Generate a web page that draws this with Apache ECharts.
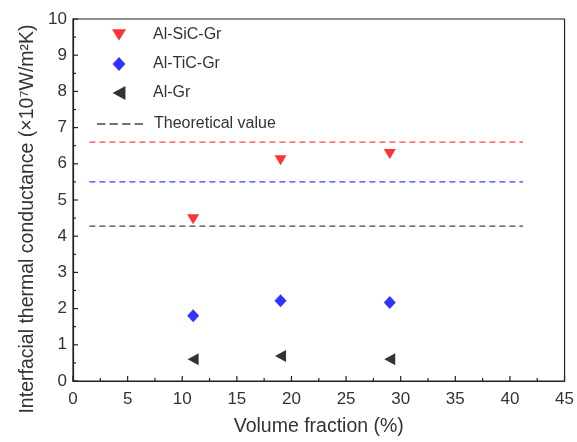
<!DOCTYPE html>
<html><head><meta charset="utf-8">
<script src="https://cdn.jsdelivr.net/npm/echarts@6/dist/echarts.min.js"></script>
<style>html,body{margin:0;padding:0;background:#fff}#c{width:577px;height:442px}</style>
</head><body><div id="c"></div>
<script>
const volumeFraction = [11, 19, 29];
const alSiCGr = [4.47, 6.10, 6.27];
const alTiCGr = [1.80, 2.22, 2.17];
const alGr = [0.60, 0.69, 0.60];
const theoryX = [1.5, 41.2];
const theorySiC = 6.6, theoryTiC = 5.5, theoryGr = 4.28;
const xTicks = [0,5,10,15,20,25,30,35,40,45];
const yTicks = [0,1,2,3,4,5,6,7,8,9,10];

const font = 'Liberation Sans, Arial, sans-serif';
const pairs = (xs, ys) => xs.map((x,i)=>[x, ys[i]]);
const hline = (v) => theoryX.map(x=>[x, v]);

// tick marks: [value, axis(0=x,1=y), length px]
const tickData = [];
xTicks.forEach((v,i)=>{ tickData.push([v,0,5]); if (i < xTicks.length-1) tickData.push([(v + xTicks[i+1])/2,0,3]); });
yTicks.forEach((v,i)=>{ tickData.push([v,1,5]); if (i < yTicks.length-1) tickData.push([(v + yTicks[i+1])/2,1,3]); });

const chart = echarts.init(document.getElementById('c'));
function axisStyle() {
  return {
    axisLine:{show:true, lineStyle:{color:'#222', width:1.2}},
    axisTick:{show:false},
    splitLine:{show:false}
  };
}
const labelStyle = (m) => ({fontSize:17, color:'#333', fontFamily:font, margin:m});
chart.setOption({
  animation:false,
  grid:{left:73, right:8, top:19, bottom:58, show:true, borderColor:'#222', borderWidth:1.2, backgroundColor:'transparent'},
  xAxis:{type:'value', min:0, max:45, interval:5, ...axisStyle(),
    axisLabel:labelStyle(10),
    name:'Volume fraction (%)', nameLocation:'middle', nameGap:36,
    nameTextStyle:{fontSize:19.5, color:'#333', fontFamily:font}},
  yAxis:{type:'value', min:0, max:10, interval:1, ...axisStyle(),
    axisLabel:labelStyle(6),
    name:'Interfacial thermal conductance (×10⁷W/m²K)', nameLocation:'middle', nameGap:24,
    nameTextStyle:{fontSize:19.5, color:'#333', fontFamily:font, padding:[0,38,0,0]}},
  legend:[{
    orient:'vertical', left:107, top:22, itemGap:13, itemWidth:14, itemHeight:14,
    textStyle:{fontSize:16, color:'#333', fontFamily:font, padding:[0,0,0,22]},
    data:[
      {name:'Al-SiC-Gr', icon:'path://M0,0L12,0L6,10Z'},
      {name:'Al-TiC-Gr', icon:'path://M6,0L12,6.5L6,13L0,6.5Z'},
      {name:'Al-Gr', icon:'path://M11,0L11,12L0,6Z'}
    ]
  },{
    orient:'vertical', left:92, top:111, itemWidth:46, itemHeight:14,
    textStyle:{fontSize:16, color:'#333', fontFamily:font, padding:[0,0,0,6]},
    data:[{name:'Theoretical value', icon:'path://M0,0H8V1.3H0ZM12,0H20V1.3H12ZM24,0H32V1.3H24ZM36,0H44V1.3H36Z', itemStyle:{color:'#444'}}]
  }],
  series:[
    {name:'Al-SiC-Gr', type:'scatter', data:pairs(volumeFraction, alSiCGr), symbol:'triangle', symbolRotate:180, symbolSize:[12,10], itemStyle:{color:'#ff0000'}},
    {name:'Al-TiC-Gr', type:'scatter', data:pairs(volumeFraction, alTiCGr), symbol:'diamond', symbolSize:[12,13], itemStyle:{color:'#0000ff'}},
    {name:'Al-Gr', type:'scatter', data:pairs(volumeFraction, alGr), symbol:'triangle', symbolRotate:90, symbolSize:[12,11], itemStyle:{color:'#000'}},
    {name:'Theoretical value', type:'line', data:hline(theorySiC), symbol:'none', lineStyle:{color:'#ff4040', type:[6,4], width:1.3}, itemStyle:{color:'#444'}},
    {name:'TheoryTiC', type:'line', data:hline(theoryTiC), symbol:'none', lineStyle:{color:'#3040ff', type:[6,4], width:1.3}},
    {name:'TheoryGr', type:'line', data:hline(theoryGr), symbol:'none', lineStyle:{color:'#444', type:[6,4], width:1.3}},
    {name:'ticks', type:'custom', silent:true, clip:false, z:10, data:tickData,
      encode:{x:-1, y:-1},
      renderItem:function(params, api){
        const v = api.value(0), ax = api.value(1), len = api.value(2);
        if (ax === 0) {
          const p = api.coord([v, 0]);
          return {type:'line', shape:{x1:p[0], y1:p[1], x2:p[0], y2:p[1]-len}, style:{stroke:'#222', lineWidth:1.2}};
        } else {
          const p = api.coord([0, v]);
          return {type:'line', shape:{x1:p[0], y1:p[1], x2:p[0]+len, y2:p[1]}, style:{stroke:'#222', lineWidth:1.2}};
        }
      }}
  ]
});
</script></body></html>
